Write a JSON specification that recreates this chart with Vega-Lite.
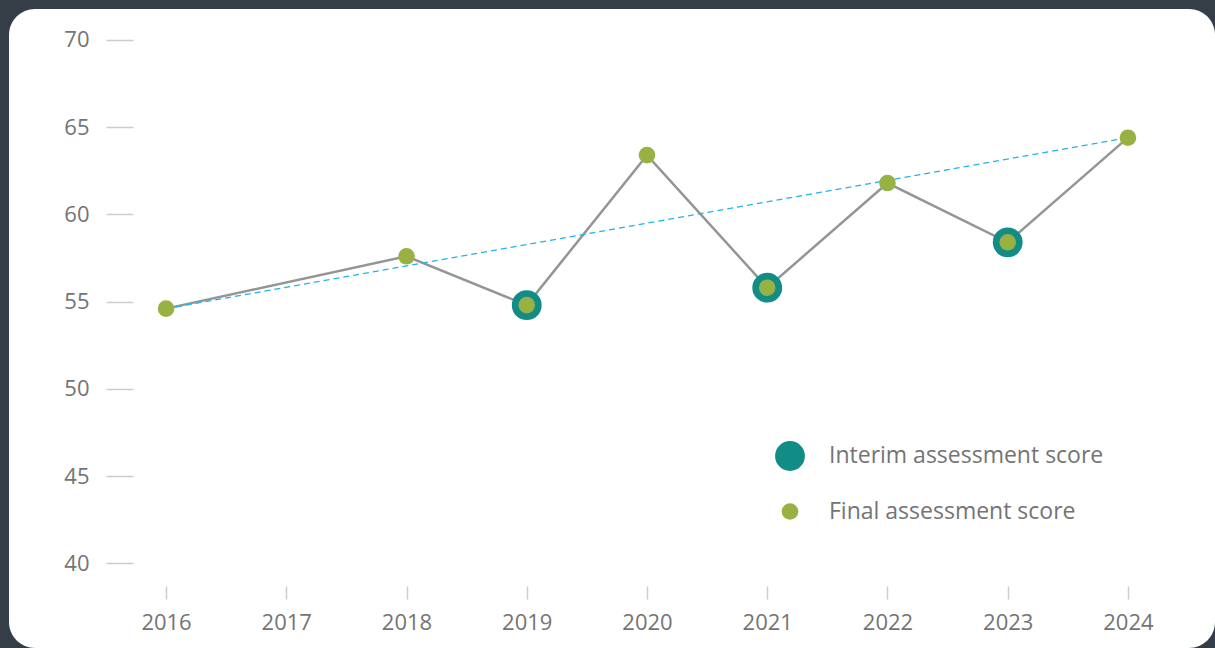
{
  "$schema": "https://vega.github.io/schema/vega-lite/v6.json",
  "width": 1206,
  "height": 639,
  "autosize": {"type": "none"},
  "padding": {"left": 9, "top": 9, "right": 0, "bottom": 0},
  "background": "#353e47",
  "config": {
    "view": {"fill": "#ffffff", "stroke": null, "cornerRadius": 26},
    "font": "Open Sans",
    "axis": {
      "grid": false,
      "domain": false,
      "labelFont": "Open Sans",
      "labelColor": "#747474",
      "labelFontSize": 22,
      "tickColor": "#cccccc",
      "tickWidth": 1.5,
      "title": null
    },
    "legend": {
      "labelFont": "Open Sans",
      "labelFontSize": 23,
      "labelColor": "#747474",
      "labelLimit": 0,
      "symbolStrokeWidth": 0,
      "symbolOpacity": 1,
      "symbolType": "circle",
      "rowPadding": 29,
      "labelOffset": 24
    }
  },
  "datasets": {
    "scores": [
      {"year": 2016, "score": 54.6, "series": "Final assessment score"},
      {"year": 2018, "score": 57.6, "series": "Final assessment score"},
      {"year": 2019, "score": 54.8, "series": "Final assessment score"},
      {"year": 2020, "score": 63.4, "series": "Final assessment score"},
      {"year": 2021, "score": 55.8, "series": "Final assessment score"},
      {"year": 2022, "score": 61.8, "series": "Final assessment score"},
      {"year": 2023, "score": 58.4, "series": "Final assessment score"},
      {"year": 2024, "score": 64.4, "series": "Final assessment score"},
      {"year": 2019, "score": 54.8, "series": "Interim assessment score"},
      {"year": 2021, "score": 55.8, "series": "Interim assessment score"},
      {"year": 2023, "score": 58.4, "series": "Interim assessment score"}
    ],
    "trend": [
      {"year": 2016, "score": 54.6},
      {"year": 2024, "score": 64.4}
    ]
  },
  "encoding": {
    "x": {
      "field": "year",
      "type": "quantitative",
      "scale": {"domain": [2014.694, 2024.724], "nice": false, "zero": false},
      "axis": {
        "values": [2016, 2017, 2018, 2019, 2020, 2021, 2022, 2023, 2024],
        "format": "d",
        "orient": "bottom",
        "offset": -62,
        "tickSize": 13,
        "labelPadding": 13
      }
    },
    "y": {
      "field": "score",
      "type": "quantitative",
      "scale": {"domain": [35.143, 71.777], "nice": false, "zero": false},
      "axis": {
        "values": [40, 45, 50, 55, 60, 65, 70],
        "orient": "left",
        "offset": -124,
        "tickSize": 27,
        "labelPadding": 17
      }
    }
  },
  "layer": [
    {
      "data": {"name": "scores"},
      "transform": [{"filter": "datum.series === 'Final assessment score'"}],
      "mark": {"type": "line", "color": "#959595", "strokeWidth": 2.5}
    },
    {
      "data": {"name": "trend"},
      "mark": {"type": "line", "color": "#1cb5e8", "strokeWidth": 1.3, "strokeDash": [6, 4]}
    },
    {
      "data": {"name": "scores"},
      "transform": [{"filter": "datum.series === 'Interim assessment score'"}],
      "mark": {"type": "circle", "opacity": 1},
      "encoding": {
        "color": {
          "field": "series",
          "type": "nominal",
          "scale": {"domain": ["Interim assessment score", "Final assessment score"], "range": ["#128c87", "#97b243"]},
          "legend": {"title": null, "orient": "none", "legendX": 766, "legendY": 432}
        },
        "size": {
          "field": "series",
          "type": "nominal",
          "scale": {"domain": ["Interim assessment score", "Final assessment score"], "range": [890, 275]},
          "legend": {"title": null, "orient": "none", "legendX": 766, "legendY": 432}
        }
      }
    },
    {
      "data": {"name": "scores"},
      "transform": [{"filter": "datum.series === 'Final assessment score'"}],
      "mark": {"type": "circle", "opacity": 1},
      "encoding": {
        "color": {
          "field": "series",
          "type": "nominal",
          "scale": {"domain": ["Interim assessment score", "Final assessment score"], "range": ["#128c87", "#97b243"]},
          "legend": {"title": null, "orient": "none", "legendX": 766, "legendY": 432}
        },
        "size": {
          "field": "series",
          "type": "nominal",
          "scale": {"domain": ["Interim assessment score", "Final assessment score"], "range": [890, 275]},
          "legend": {"title": null, "orient": "none", "legendX": 766, "legendY": 432}
        }
      }
    }
  ]
}
